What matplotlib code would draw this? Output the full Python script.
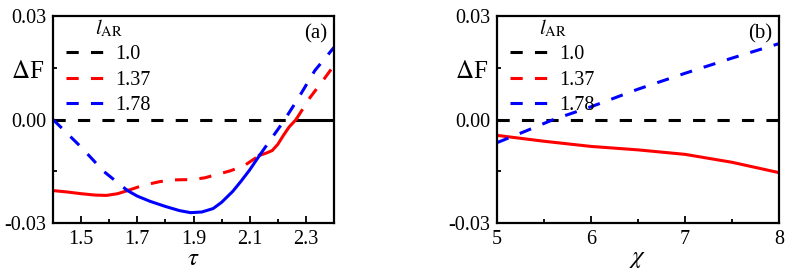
import matplotlib.pyplot as plt
from matplotlib.lines import Line2D

plt.rcParams['font.family'] = ['Liberation Serif', 'DejaVu Serif']
plt.rcParams['mathtext.fontset'] = 'stix'

# ---------------- data, panel (a) ----------------
lar_labels = ["1.0", "1.37", "1.78"]

# black (l_AR = 1.0): dashed, then solid after the red crossing
tau_black_dash = [1.40, 2.265]
df_black_dash = [0.0, 0.0]
tau_black_solid = [2.265, 2.40]
df_black_solid = [0.0, 0.0]

# red (l_AR = 1.37)
tau_red_s1 = [1.40, 1.45, 1.50, 1.55, 1.59, 1.63, 1.665]
df_red_s1 = [-0.0206, -0.0210, -0.0215, -0.0219, -0.0220, -0.0215, -0.0206]
tau_red_d1 = [1.665, 1.72, 1.78, 1.83, 1.895, 1.94, 1.98, 2.03, 2.08, 2.135]
df_red_d1 = [-0.0206, -0.0191, -0.0180, -0.0175, -0.0174, -0.0169, -0.0160, -0.0149, -0.0134, -0.0104]
tau_red_s2 = [2.135, 2.16, 2.18, 2.20, 2.22, 2.24, 2.265]
df_red_s2 = [-0.0104, -0.0097, -0.0090, -0.0072, -0.0046, -0.0022, 0.0]
tau_red_d2 = [2.265, 2.315, 2.36, 2.40]
df_red_d2 = [0.0, 0.0064, 0.0112, 0.0157]

# blue (l_AR = 1.78)
tau_blue_d1 = [1.40, 1.50, 1.58, 1.665]
df_blue_d1 = [0.0, -0.0080, -0.0150, -0.0206]
tau_blue_s = [1.665, 1.70, 1.745, 1.80, 1.85, 1.89, 1.93, 1.97, 2.00, 2.04, 2.07, 2.10, 2.135]
df_blue_s = [-0.0206, -0.0222, -0.0237, -0.0252, -0.0264, -0.0270, -0.0268, -0.0258, -0.0240, -0.0208, -0.0178, -0.0146, -0.0104]
tau_blue_d2 = [2.135, 2.18, 2.215, 2.268, 2.332, 2.40]
df_blue_d2 = [-0.0104, -0.0052, -0.0012, 0.0055, 0.0142, 0.0209]

# ---------------- data, panel (b) ----------------
chi_black = [5.0, 8.0]
df_b_black = [0.0, 0.0]
chi_blue = [5.0, 5.3, 5.6, 6.0, 6.5, 7.0, 7.5, 8.0]
df_b_blue = [-0.0067, -0.0034, 0.0, 0.0037, 0.0088, 0.0134, 0.0178, 0.0220]
chi_red = [5.0, 5.5, 6.0, 6.5, 7.0, 7.5, 8.0]
df_b_red = [-0.0046, -0.0063, -0.0078, -0.0088, -0.0101, -0.0124, -0.0154]

# ---------------- figure ----------------
fig = plt.figure(figsize=(7.89, 2.70), dpi=100)
ax1 = fig.add_axes([0.0672, 0.174, 0.3561, 0.7667])
ax2 = fig.add_axes([0.630, 0.174, 0.3574, 0.7667])

lw = 2.2
dash = (4, 4)

ax1.plot(tau_black_dash, df_black_dash, color="black", lw=lw, dashes=dash)
ax1.plot(tau_black_solid, df_black_solid, color="black", lw=lw)
ax1.plot(tau_red_s1, df_red_s1, color="red", lw=lw)
ax1.plot(tau_red_d1, df_red_d1, color="red", lw=lw, dashes=dash)
ax1.plot(tau_red_s2, df_red_s2, color="red", lw=lw)
ax1.plot(tau_red_d2, df_red_d2, color="red", lw=lw, dashes=dash)
ax1.plot(tau_blue_d1, df_blue_d1, color="blue", lw=lw, dashes=dash)
ax1.plot(tau_blue_s, df_blue_s, color="blue", lw=lw)
ax1.plot(tau_blue_d2, df_blue_d2, color="blue", lw=lw, dashes=dash)

ax2.plot(chi_black, df_b_black, color="black", lw=lw, dashes=dash)
ax2.plot(chi_red, df_b_red, color="red", lw=lw)
ax2.plot(chi_blue, df_b_blue, color="blue", lw=lw, dashes=dash)

handles = [Line2D([], [], color=c, lw=lw, dashes=dash) for c in ["black", "red", "blue"]]

for ax, tag in [(ax1, "(a)"), (ax2, "(b)")]:
    ax.set_ylim(-0.03, 0.03)
    ax.set_yticks([-0.03, 0.0, 0.03])
    ax.set_yticklabels(["-0.03", "0.00", "0.03"])
    ax.set_yticks([-0.015, 0.015], minor=True)
    ax.tick_params(which="both", direction="in", top=False, right=False,
                   labelsize=14.5, width=1.3, pad=5)
    ax.tick_params(which="major", length=5)
    ax.tick_params(which="minor", length=3)
    for sp in ax.spines.values():
        sp.set_linewidth(1.6)
    ax.text(-0.03, 0.73, r"$\Delta$F", transform=ax.transAxes, fontsize=18,
            ha="right", va="center")
    ax.text(0.975, 0.915, tag, transform=ax.transAxes, fontsize=15,
            ha="right", va="center")
    leg = ax.legend(handles, lar_labels, loc="upper left", bbox_to_anchor=(-0.01, 1.07),
                    frameon=False, fontsize=14.5, handlelength=2.0, handletextpad=0.45,
                    labelspacing=0.3, title=r"$l_{\mathrm{AR}}$",
                    title_fontsize=15, borderpad=0.3)
    leg._legend_box.align = "center"

ax1.set_xlim(1.4, 2.4)
ax1.set_xticks([1.5, 1.7, 1.9, 2.1, 2.3])
ax1.set_xticks([1.6, 1.8, 2.0, 2.2], minor=True)
ax1.set_xlabel(r"$\tau$", fontsize=18, labelpad=-1)

ax2.set_xlim(5, 8)
ax2.set_xticks([5, 6, 7, 8])
ax2.set_xticks([5.5, 6.5, 7.5], minor=True)
ax2.set_xlabel(r"$\chi$", fontsize=18, labelpad=-1)

fig.savefig("out.png", dpi=100)
